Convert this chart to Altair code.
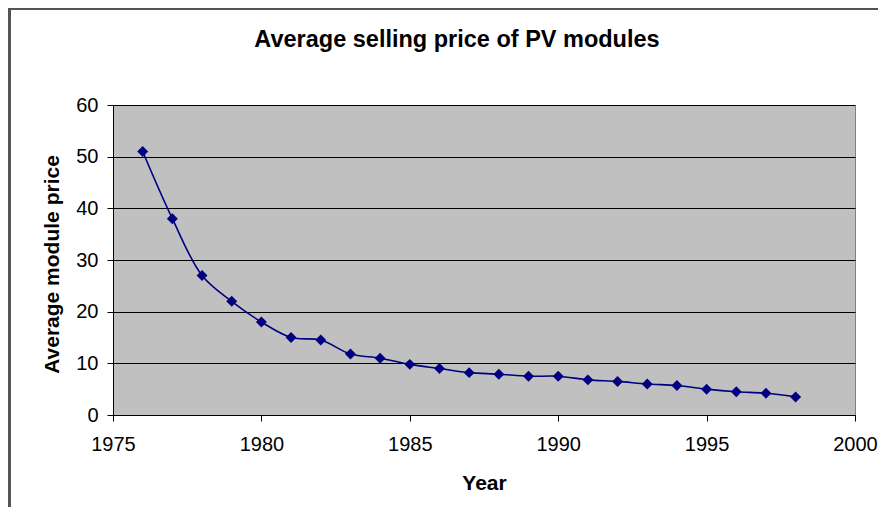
import altair as alt
import pandas as pd

years = [1976, 1977, 1978, 1979, 1980, 1981, 1982, 1983, 1984, 1985, 1986, 1987,
         1988, 1989, 1990, 1991, 1992, 1993, 1994, 1995, 1996, 1997, 1998]
prices = [51, 38, 27, 22, 18, 15, 14.5, 11.8, 11, 9.8, 9, 8.2,
          7.9, 7.5, 7.5, 6.8, 6.5, 6.0, 5.7, 5.0, 4.5, 4.2, 3.5]
x_ticks = [1975, 1980, 1985, 1990, 1995, 2000]
y_ticks = [0, 10, 20, 30, 40, 50, 60]

df = pd.DataFrame({"Year": years, "Price": prices})

FONT = "Liberation Sans"
NAVY = "#000080"

x_enc = alt.X("Year:Q",
              scale=alt.Scale(domain=[1975, 2000], nice=False, zero=False),
              axis=alt.Axis(values=x_ticks, format="d", title="Year", grid=False,
                            tickSize=6, labelPadding=13, labelFontSize=20,
                            labelFlush=False, labelOverlap=False,
                            titleFontSize=21, titleFontWeight="bold",
                            titleBaseline="alphabetic", titleX=371, titleY=74))
y_enc = alt.Y("Price:Q",
              scale=alt.Scale(domain=[0, 60], nice=False),
              axis=alt.Axis(values=y_ticks, title="Average module price", grid=True,
                            tickSize=6, labelPadding=9, labelFontSize=20,
                            labelFlush=False, labelOverlap=False,
                            titleFontSize=21, titleFontWeight="bold",
                            titleBaseline="alphabetic", titleX=-55, titleY=159,
                            titleAngle=-90))

line = alt.Chart(df).mark_line(color=NAVY, strokeWidth=1.6,
                               interpolate="catmull-rom").encode(x=x_enc, y=y_enc)
points = alt.Chart(df).mark_point(shape="diamond", filled=True, color=NAVY,
                                  opacity=1, size=120).encode(x="Year:Q", y="Price:Q")

frame_left = alt.Chart(df).mark_rule(color="#555555", strokeWidth=1.5).encode(
    x=alt.value(-103.5), y=alt.value(-97), y2=alt.value(420))
frame_top = alt.Chart(df).mark_rule(color="#555555", strokeWidth=1.5).encode(
    x=alt.value(-103.5), x2=alt.value(800), y=alt.value(-96))

chart = alt.layer(frame_left, frame_top, line, points).properties(
    width=742, height=310,
    autosize=alt.AutoSizeParams(type="none"),
    padding={"left": 105, "top": 97, "right": 23, "bottom": 92},
    background="white",
    title=alt.TitleParams("Average selling price of PV modules", fontSize=23.5,
                          font=FONT, fontWeight="bold", color="black",
                          anchor="middle", dx=-27, baseline="alphabetic", offset=-63),
).configure_view(
    fill="#C0C0C0", stroke="#808080", strokeWidth=1
).configure_axis(
    labelFont=FONT, titleFont=FONT, labelColor="black", titleColor="black",
    domainColor="black", tickColor="black", gridColor="black", gridOpacity=1,
    gridWidth=1, domainWidth=1, tickWidth=1
)

chart.save("out.html", embed_options={"renderer": "svg", "actions": False})
